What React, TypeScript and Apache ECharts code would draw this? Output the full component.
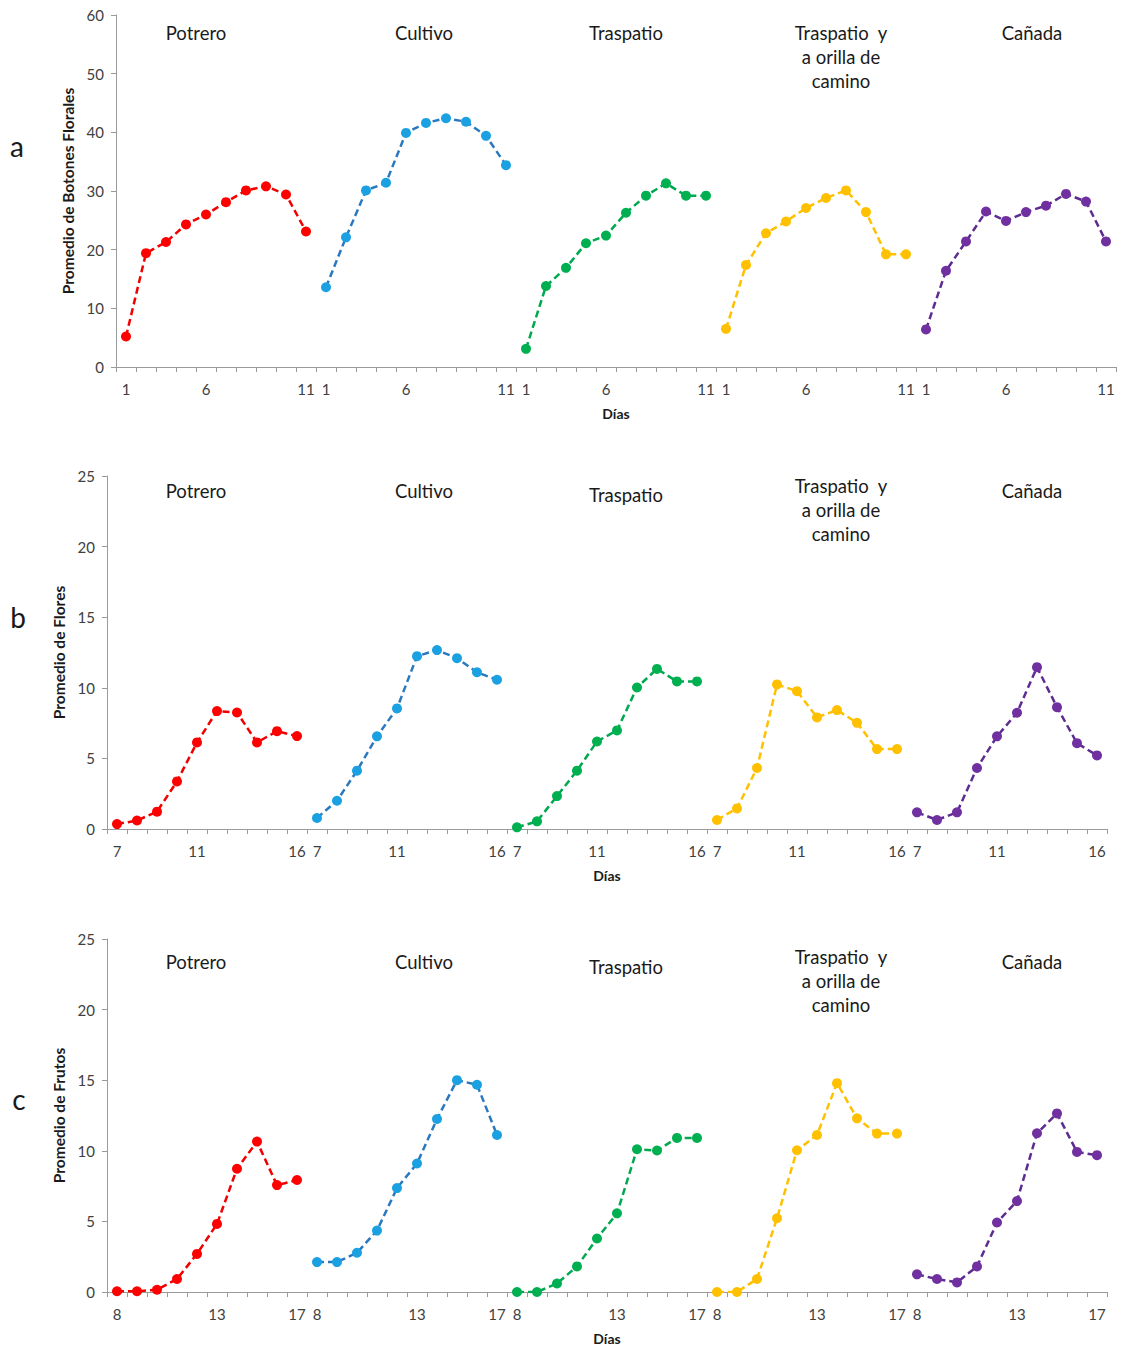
import React, { useEffect, useRef } from "react";
import * as echarts from "echarts";

// ---------- data ----------
const GROUPS = ["Potrero", "Cultivo", "Traspatio", "Traspatio y orilla", "Cañada"];
const GROUP_TITLES = ["Potrero", "Cultivo", "Traspatio", "Traspatio  y\na orilla de\ncamino", "Cañada"];

const DAYS_A = ["1", "2", "3", "4", "6", "7", "8", "9", "10", "11"];
const DAYS_B = ["7", "8", "9", "10", "11", "12", "13", "14", "15", "16"];
const DAYS_C = ["8", "9", "10", "11", "12", "13", "14", "15", "16", "17"];

const SHOWN_A = ["1", "6", "11"];
const SHOWN_B = ["7", "11", "16"];
const SHOWN_C = ["8", "13", "17"];

// a) Promedio de Botones Florales
const botonesPotrero = [5.2, 19.4, 21.3, 24.3, 26.0, 28.1, 30.1, 30.8, 29.4, 23.1];
const botonesCultivo = [13.6, 22.1, 30.1, 31.4, 39.9, 41.6, 42.4, 41.8, 39.4, 34.4];
const botonesTraspatio = [3.1, 13.8, 16.9, 21.1, 22.4, 26.3, 29.2, 31.3, 29.2, 29.2];
const botonesOrilla = [6.5, 17.4, 22.8, 24.8, 27.1, 28.8, 30.1, 26.4, 19.2, 19.2];
const botonesCanada = [6.4, 16.4, 21.4, 26.5, 24.9, 26.4, 27.5, 29.5, 28.2, 21.4];

// b) Promedio de Flores
const floresPotrero = [0.35, 0.6, 1.23, 3.37, 6.13, 8.35, 8.25, 6.13, 6.93, 6.58];
const floresCultivo = [0.78, 2.0, 4.13, 6.56, 8.54, 12.24, 12.67, 12.1, 11.1, 10.57];
const floresTraspatio = [0.12, 0.54, 2.33, 4.13, 6.2, 6.98, 10.02, 11.34, 10.45, 10.45];
const floresOrilla = [0.64, 1.46, 4.32, 10.24, 9.76, 7.9, 8.42, 7.52, 5.66, 5.66];
const floresCanada = [1.18, 0.64, 1.18, 4.32, 6.56, 8.23, 11.46, 8.63, 6.08, 5.21];

// c) Promedio de Frutos
const frutosPotrero = [0.05, 0.05, 0.16, 0.92, 2.7, 4.82, 8.73, 10.65, 7.57, 7.93];
const frutosCultivo = [2.12, 2.12, 2.78, 4.35, 7.36, 9.1, 12.25, 15.0, 14.68, 11.12];
const frutosTraspatio = [0.0, 0.0, 0.6, 1.81, 3.79, 5.57, 10.11, 10.02, 10.91, 10.91];
const frutosOrilla = [0.0, 0.0, 0.92, 5.22, 10.04, 11.12, 14.79, 12.3, 11.22, 11.22];
const frutosCanada = [1.25, 0.92, 0.68, 1.81, 4.92, 6.44, 11.24, 12.65, 9.92, 9.69];

const Y_MAX = [60, 25, 25];
const Y_STEP = [10, 5, 5];
const Y_NAMES = ["Promedio de Botones Florales", "Promedio de Flores", "Promedio de Frutos"];
const PANEL_LETTERS = ["a", "b", "c"];

// ---------- styles ----------
const LINE_COLORS = ["#F00000", "#2A78BE", "#00A84F", "#FFC000", "#5E2C91"];
const MARKER_COLORS = ["#FF0000", "#1BA1E2", "#00B050", "#FFC000", "#7030A0"];
const FONT = "Lato, 'Open Sans', sans-serif";

const PANELS = [
  { days: DAYS_A, shown: SHOWN_A, series: [botonesPotrero, botonesCultivo, botonesTraspatio, botonesOrilla, botonesCanada] },
  { days: DAYS_B, shown: SHOWN_B, series: [floresPotrero, floresCultivo, floresTraspatio, floresOrilla, floresCanada] },
  { days: DAYS_C, shown: SHOWN_C, series: [frutosPotrero, frutosCultivo, frutosTraspatio, frutosOrilla, frutosCanada] },
];

const GRIDS = [
  { left: 116, top: 15, width: 1000, height: 352 },
  { left: 107, top: 476, width: 1000, height: 353 },
  { left: 107, top: 939, width: 1000, height: 353 },
];

const TITLE_X = [196, 424, 626, 841, 1032];
const TITLE_Y = [
  [33, 33, 33, 57, 33],
  [491, 491, 495, 510, 491],
  [962, 962, 967, 981, 962],
];
const LETTER_POS = [
  [17, 146],
  [18, 617],
  [19, 1099],
];

const key = (g: number, d: string) => `${g}|${d}`;

function buildOption() {
  const xAxis: any[] = [];
  const yAxis: any[] = [];
  const series: any[] = [];
  const graphic: any[] = [];

  PANELS.forEach((p, pi) => {
    const cats: string[] = [];
    GROUPS.forEach((_, gi) => p.days.forEach((d) => cats.push(key(gi, d))));
    xAxis.push({
      type: "category",
      gridIndex: pi,
      data: cats,
      boundaryGap: true,
      axisLine: { lineStyle: { color: "#9a9a9a", width: 1 } },
      axisTick: { show: true, interval: 0, length: 5, lineStyle: { color: "#9a9a9a" } },
      axisLabel: {
        interval: (_i: number, v: string) => p.shown.includes(v.split("|")[1]),
        formatter: (v: string) => v.split("|")[1],
        color: "#404040",
        fontSize: 15,
        fontFamily: FONT,
        margin: 14,
      },
      splitLine: { show: false },
      name: "Días",
      nameLocation: "middle",
      nameGap: 39,
      nameTextStyle: { fontWeight: "bold", fontSize: 14, color: "#1a1a1a", fontFamily: FONT },
    });
    yAxis.push({
      type: "value",
      gridIndex: pi,
      min: 0,
      max: Y_MAX[pi],
      interval: Y_STEP[pi],
      axisLine: { show: true, lineStyle: { color: "#9a9a9a", width: 1 } },
      axisTick: { show: true, length: 5, lineStyle: { color: "#9a9a9a" } },
      axisLabel: { color: "#404040", fontSize: 15, fontFamily: FONT, margin: 12 },
      splitLine: { show: false },
      name: Y_NAMES[pi],
      nameLocation: "middle",
      nameGap: 39,
      nameTextStyle: { fontWeight: "bold", fontSize: 15.5, color: "#1a1a1a", fontFamily: FONT },
    });
    p.series.forEach((vals, gi) => {
      series.push({
        type: "line",
        name: `${Y_NAMES[pi]} - ${GROUPS[gi]}`,
        xAxisIndex: pi,
        yAxisIndex: pi,
        data: vals.map((v, i) => [key(gi, p.days[i]), v]),
        symbol: "circle",
        symbolSize: 10,
        showSymbol: true,
        lineStyle: { color: LINE_COLORS[gi], width: 2.5, type: [7, 4] },
        itemStyle: { color: MARKER_COLORS[gi] },
      });
    });
    GROUP_TITLES.forEach((t, gi) => {
      graphic.push({
        type: "text",
        x: TITLE_X[gi],
        y: TITLE_Y[pi][gi],
        style: {
          text: t,
          fill: "#1a1a1a",
          fontSize: 18.5,
          fontFamily: FONT,
          align: "center",
          verticalAlign: "middle",
          lineHeight: 24,
        },
      });
    });
    graphic.push({
      type: "text",
      x: LETTER_POS[pi][0],
      y: LETTER_POS[pi][1],
      style: {
        text: PANEL_LETTERS[pi],
        fill: "#1a1a1a",
        fontSize: 28,
        fontFamily: FONT,
        align: "center",
        verticalAlign: "middle",
      },
    });
  });

  return {
    animation: false,
    backgroundColor: "#ffffff",
    grid: GRIDS,
    xAxis,
    yAxis,
    series,
    graphic,
  };
}

export default function App() {
  const ref = useRef<HTMLDivElement>(null);
  useEffect(() => {
    document.body.style.margin = "0";
    if (!ref.current) return;
    const chart = echarts.init(ref.current, undefined, { renderer: "svg" });
    chart.setOption(buildOption() as any);
    return () => chart.dispose();
  }, []);
  return <div ref={ref} style={{ width: 1122, height: 1352 }} />;
}
